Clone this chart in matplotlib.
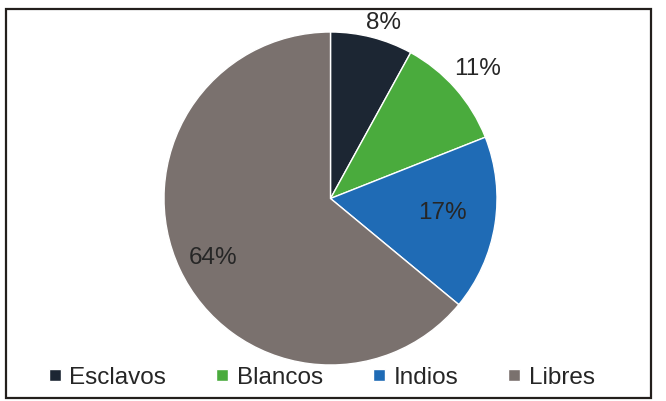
import numpy as np
import matplotlib.pyplot as plt
from matplotlib.patches import Rectangle

# data
categories = ['Esclavos', 'Blancos', 'Indios', 'Libres']
shares = [8, 11, 17, 64]
pct_labels = ['8%', '11%', '17%', '64%']
colors = ['#1c2633', '#4aab3d', '#1f6bb5', '#7a716e']

plt.rcParams['font.family'] = ['Liberation Sans', 'DejaVu Sans']

W, H = 666, 401
fig = plt.figure(figsize=(W / 100, H / 100), dpi=100)
ax = fig.add_axes([0, 0, 1, 1])

cx, cy, r = 330.5, 202.5, 166.5
wedges, _ = ax.pie(shares, colors=colors, startangle=90, counterclock=False,
                   center=(cx, cy), radius=r, frame=True,
                   wedgeprops=dict(edgecolor='white', linewidth=1))
ax.set_xlim(0, W)
ax.set_ylim(0, H)
ax.set_aspect('equal')
ax.axis('off')

# label distance (fraction of radius) and small angle nudge for each slice
dists = [1.10, 1.18, 0.68, 0.79]
nudge = [-2.5, 0, 1.5, 1.5]
for w, lab, d, dn in zip(wedges, pct_labels, dists, nudge):
    ang = np.deg2rad((w.theta1 + w.theta2) / 2 + dn)
    ax.text(cx + d * r * np.cos(ang), cy + d * r * np.sin(ang), lab,
            ha='center', va='center', fontsize=17.5, color='#262626')

ax.legend(wedges, categories, ncol=4, loc='center', bbox_to_anchor=(0.483, 0.057),
          bbox_transform=fig.transFigure, frameon=False, fontsize=17.5,
          handlelength=0.5, handleheight=0.38, handletextpad=0.35,
          columnspacing=2.05, labelcolor='#262626', borderpad=0.2)

# outer frame
fig.patches.append(Rectangle((6, 3), 645, 389, transform=None, fill=False,
                             edgecolor='#231f1c', linewidth=1.6))

fig.savefig('out.png', dpi=100)
